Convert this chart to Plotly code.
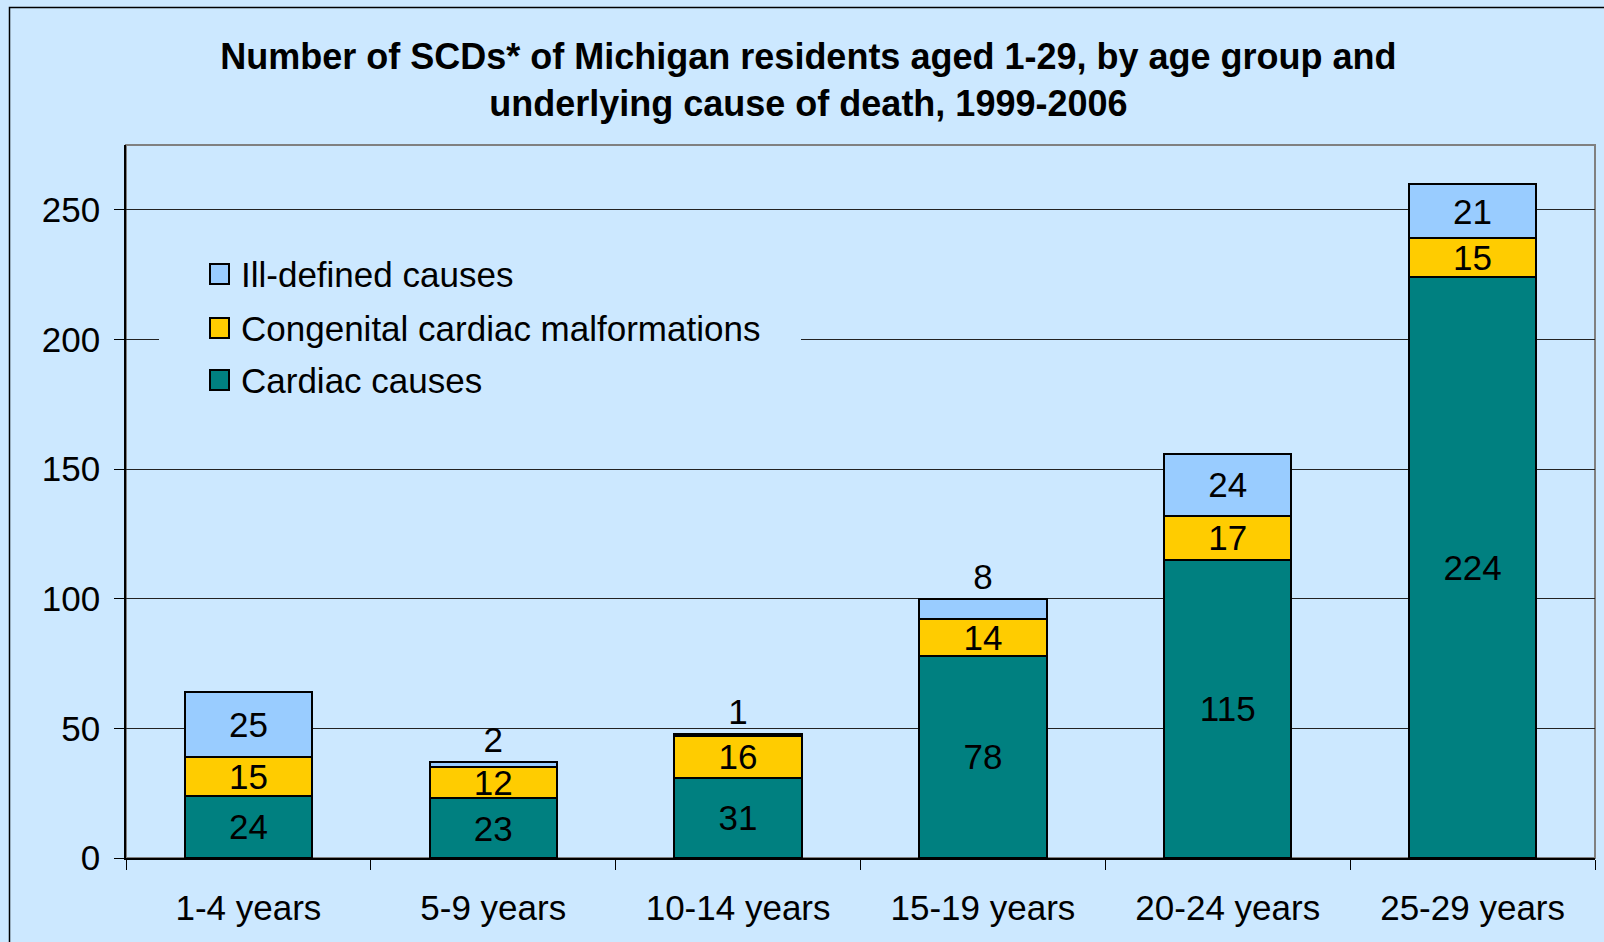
import plotly.graph_objects as go

categories = ["1-4 years", "5-9 years", "10-14 years", "15-19 years", "20-24 years", "25-29 years"]
cardiac = [24, 23, 31, 78, 115, 224]
congenital = [15, 12, 16, 14, 17, 15]
ill_defined = [25, 2, 1, 8, 24, 21]
ill_positions = ["inside", "outside", "outside", "outside", "inside", "inside"]
y_ticks = [0, 50, 100, 150, 200, 250]

series_names = ["Cardiac causes", "Congenital cardiac malformations", "Ill-defined causes"]
series_colors = ["#008080", "#FFCC00", "#99CCFF"]

BG = "#CCE8FF"
FONT = "Liberation Sans, Arial, sans-serif"
W, H = 1604, 942
ML, MR, MT, MB = 126, 9, 145, 84
PW, PH = W - ML - MR, H - MT - MB
FS = 35


def px_x(px):
    return (px - ML) / PW


def px_y(py):
    return 1 - (py - MT) / PH


fig = go.Figure()
common = dict(marker_line_color="black", marker_line_width=2, width=0.52,
              textfont=dict(size=FS, color="black", family=FONT), textangle=0,
              insidetextanchor="middle", constraintext="none", cliponaxis=False,
              showlegend=False)
for vals, name, col, pos in [(cardiac, series_names[0], series_colors[0], "inside"),
                             (congenital, series_names[1], series_colors[1], "inside"),
                             (ill_defined, series_names[2], series_colors[2], ill_positions)]:
    fig.add_trace(go.Bar(name=name, x=categories, y=vals, marker_color=col,
                         text=vals, textposition=pos, **common))

fig.update_layout(
    width=W, height=H,
    barmode="stack",
    paper_bgcolor=BG, plot_bgcolor=BG,
    margin=dict(l=ML, r=MR, t=MT, b=MB),
    font=dict(family=FONT, color="black"),
    uniformtext=dict(minsize=FS, mode="show"),
    title=dict(text="<b>Number of SCDs* of Michigan residents aged 1-29, by age group and<br>underlying cause of death, 1999-2006</b>",
               x=0.504, xref="container", xanchor="center", y=1 - 69 / H, yanchor="middle",
               font=dict(size=36, family=FONT, color="black")),
    bargap=0.48,
)
fig.update_xaxes(type="category", tickson="boundaries", ticks="outside", ticklen=10, tickcolor="black",
                 showline=True, linecolor="black", linewidth=1.5, showgrid=False, automargin=False,
                 ticklabelstandoff=18, tickfont=dict(size=FS, family=FONT))
fig.update_yaxes(range=[0, 275], tickvals=y_ticks, ticks="outside", ticklen=10, tickcolor="black",
                 showline=True, linecolor="black", linewidth=1.5, showgrid=True, gridcolor="#222222",
                 gridwidth=1, zeroline=False, automargin=False, ticklabelstandoff=7,
                 tickfont=dict(size=FS, family=FONT))

# plot area frame (gray top/right)
fig.add_shape(type="rect", xref="x domain", yref="y domain", x0=0, x1=1, y0=0, y1=1,
              line=dict(color="#808080", width=2), layer="below")
# outer chart border
fig.add_shape(type="rect", xref="paper", yref="paper",
              x0=px_x(9.5), x1=px_x(W + 20), y0=px_y(H + 20), y1=px_y(7.5),
              line=dict(color="black", width=1.5), layer="below")

# legend box background (hides gridline behind it)
fig.add_shape(type="rect", xref="paper", yref="paper",
              x0=px_x(159), x1=px_x(801), y0=px_y(405), y1=px_y(245),
              fillcolor=BG, line=dict(width=0), layer="above")
legend_rows = [(series_names[2], series_colors[2], 274),
               (series_names[1], series_colors[1], 328),
               (series_names[0], series_colors[0], 380)]
for name, col, cy in legend_rows:
    fig.add_shape(type="rect", xref="paper", yref="paper",
                  x0=px_x(210), x1=px_x(229), y0=px_y(cy + 10), y1=px_y(cy - 10),
                  fillcolor=col, line=dict(color="black", width=2), layer="above")
    fig.add_annotation(xref="paper", yref="paper", x=px_x(239), y=px_y(cy), text=name,
                       showarrow=False, xanchor="left", yanchor="middle",
                       font=dict(size=FS, family=FONT, color="black"))

fig.write_html("out.html", config={"displayModeBar": False},
               post_script="document.body.style.margin='0';")
